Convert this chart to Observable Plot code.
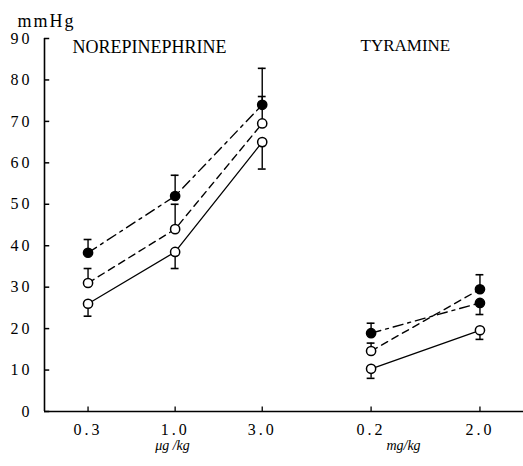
<!DOCTYPE html>
<html><head><meta charset="utf-8">
<script src="https://cdn.jsdelivr.net/npm/d3@7"></script>
<script src="https://cdn.jsdelivr.net/npm/@observablehq/plot@0.6"></script>
<style>
html,body{margin:0;padding:0;background:#fff;}
#chart g[aria-label="y-axis tick label"] text,
#chart g[aria-label="x-axis tick label"] text { font-size: 16px; letter-spacing: 3px; }
</style>
</head><body>
<div id="chart"></div>
<script>
// dose categories (tick labels) and their drug group
const doses = ["0.3", "1.0", "3.0", "0.2", "2.0"];
const drugs = ["NE", "NE", "NE", "TY", "TY"];
// slot of each dose on the x axis (group-wise ordering, tyramine spaced wider)
const slot = [0, 1, 2, 3.25, 4.5];

// series 1: solid line, open circles
const solidVal = [26, 38.5, 65, 10.3, 19.6];
const solidErr = [23, 34.5, 58.5, 8, 17.4];
// series 2: dashed line, open circles (filled at tyramine 2.0)
const dashedVal = [31, 44, 69.5, 14.6, 29.5];
const dashedErr = [34.5, 50, 76, 16.5, 33];
const dashedFilled = [false, false, false, false, true];
// series 3: dash-dot line, filled circles
const dashdotVal = [38.3, 52, 74, 18.9, 26.2];
const dashdotErr = [41.5, 57, 82.8, 21.3, 23.4];

const yTicks = [0, 10, 20, 30, 40, 50, 60, 70, 80, 90];

function rows(name, vals, errs, filled) {
  return vals.map((v, i) => ({
    series: name, dose: doses[i], drug: drugs[i], x: slot[i],
    y: v, err: errs[i], filled: filled(i), z: name + drugs[i]
  }));
}
const solid = rows("solid", solidVal, solidErr, () => false);
const dashed = rows("dashed", dashedVal, dashedErr, i => dashedFilled[i]);
const dashdot = rows("dashdot", dashdotVal, dashdotErr, () => true);
const all = [...solid, ...dashed, ...dashdot];

const capW = 0.045;
const font = "'Liberation Serif', 'DejaVu Serif', serif";

const chart = Plot.plot({
  width: 523, height: 466,
  marginLeft: 44, marginRight: 0, marginTop: 38, marginBottom: 55,
  x: {domain: [-0.5, 5]},
  y: {domain: [0, 90]},
  style: {fontFamily: font, fontSize: "15px", background: "#fff", color: "#000", overflow: "visible"},
  marks: [
    Plot.ruleX([-0.5], {y1: 0, y2: 90, strokeWidth: 1.6}),
    Plot.ruleY([0], {x1: -0.5, x2: 5, strokeWidth: 1.6}),
    Plot.axisY({ticks: yTicks, tickSize: 0, tickPadding: 12, label: null}),
    Plot.axisX({ticks: slot, tickFormat: d => doses[slot.indexOf(d)], tickSize: 0, tickPadding: 12, label: null}),
    // inward tick marks
    Plot.ruleY(yTicks, {x1: -0.5, x2: -0.44, strokeWidth: 1.5}),
    Plot.ruleX(slot, {y1: 0, y2: 1.1, strokeWidth: 1.3}),
    // error bars
    Plot.ruleX(all, {x: "x", y1: "y", y2: "err", strokeWidth: 1.4}),
    Plot.ruleY(all, {y: "err", x1: d => d.x - capW, x2: d => d.x + capW, strokeWidth: 1.6}),
    // lines
    Plot.line(solid, {x: "x", y: "y", z: "z", stroke: "#000", strokeWidth: 1.3}),
    Plot.line(dashed, {x: "x", y: "y", z: "z", stroke: "#000", strokeWidth: 1.4, strokeDasharray: "7,5"}),
    Plot.line(dashdot, {x: "x", y: "y", z: "z", stroke: "#000", strokeWidth: 1.4, strokeDasharray: "10,5,3,5"}),
    // markers
    Plot.dot(all, {x: "x", y: "y", r: 4.6, stroke: "#000", strokeWidth: 1.5, fill: d => d.filled ? "#000" : "#fff"}),
    // texts
    Plot.text(["mmHg"], {frameAnchor: "top-left", textAnchor: "start", dx: -27, dy: -24, fontSize: 18}),
    Plot.text(["NOREPINEPHRINE"], {frameAnchor: "top-left", textAnchor: "start", dx: 28, dy: 2, fontSize: 18}),
    Plot.text(["TYRAMINE"], {frameAnchor: "top-left", textAnchor: "start", dx: 316, dy: 0, fontSize: 17}),
    Plot.text(["μg /kg"], {frameAnchor: "bottom-left", textAnchor: "middle", dx: 128, dy: 38, fontSize: 14, fontStyle: "italic"}),
    Plot.text(["mg/kg"], {frameAnchor: "bottom-left", textAnchor: "middle", dx: 359, dy: 38, fontSize: 14, fontStyle: "italic"})
  ]
});
document.getElementById("chart").appendChild(chart);
// letter spacing for the unit label
chart.querySelectorAll("text").forEach(t => {
  if (t.textContent === "mmHg") t.setAttribute("letter-spacing", "2px");
});
</script>
</body></html>
